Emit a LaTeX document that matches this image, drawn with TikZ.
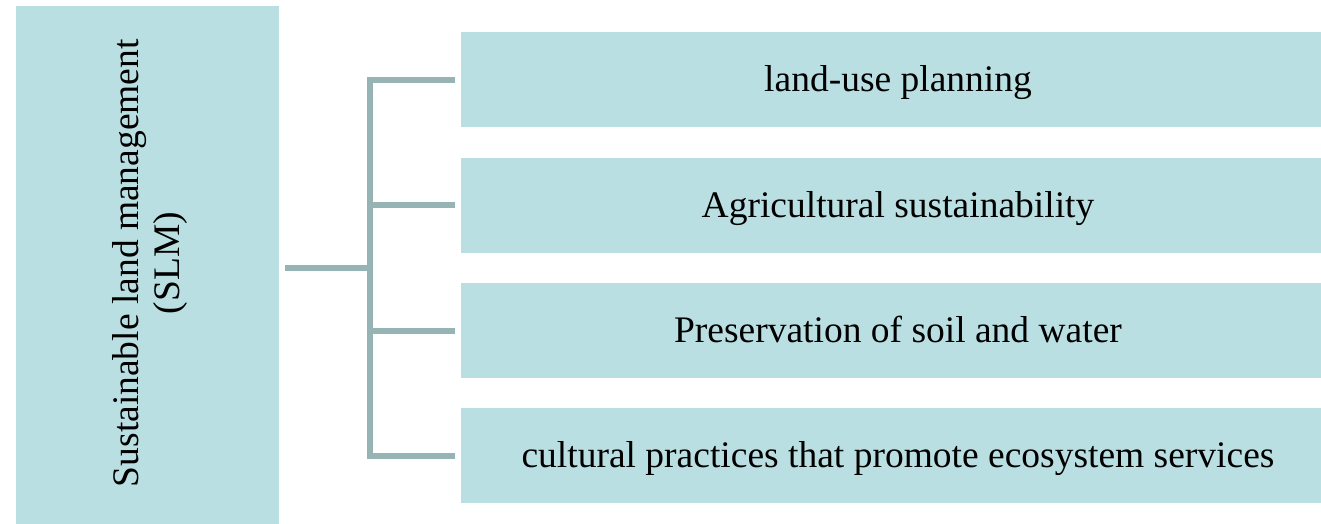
\documentclass[tikz,border=0pt]{standalone}
\usepackage{fontspec}
\setmainfont{Liberation Serif}
\usetikzlibrary{positioning}
\definecolor{boxFill}{HTML}{BADFE2}
\definecolor{lineGrey}{HTML}{97B4B5}

\tikzset{
  topic/.style={rectangle,fill=boxFill,inner sep=0pt,outer xsep=6pt,
    minimum width=860pt,minimum height=95pt,text height=33pt,text depth=9pt,
    font=\fontsize{37.5}{44}\selectfont},
  conn/.style={draw=lineGrey,line width=6pt}
}

\begin{document}
\begin{tikzpicture}[x=1pt,y=1pt]%
  \useasboundingbox (0,0) rectangle (1321,-524);
  % root box, text turned up
  \node[rectangle,fill=boxFill,inner sep=0pt,outer xsep=6pt,minimum width=263pt,
        minimum height=518pt,anchor=north west] (slm) at (10,-6) {};
  \node[rotate=90,align=center,font=\fontsize{37.5}{41}\selectfont] (slmtext)
        at ([xshift=2pt,yshift=2pt]slm.center) {Sustainable land management\\(SLM)};
  % branches
  \node[topic,anchor=north west] (landuse) at (455,-32) {\hspace{14pt}land-use planning};
  \node[topic,below=30pt of landuse] (agri) {\hspace{14pt}Agricultural sustainability};
  \node[topic,below=30pt of agri] (soil) {\hspace{14pt}Preservation of soil and water};
  \node[topic,below=30pt of soil] (culture) {\hspace{14pt}cultural practices that promote ecosystem services};
  \coordinate (hub) at (370,-268);
  \draw[conn] (landuse.west) -- (hub |- landuse.west) -- (hub |- culture.west) -- (culture.west);
  \draw[conn] (hub |- agri.west) -- (agri.west);
  \draw[conn] (hub |- soil.west) -- (soil.west);
  \draw[conn] (slm.east |- hub) -- (hub);
\end{tikzpicture}
\end{document}
